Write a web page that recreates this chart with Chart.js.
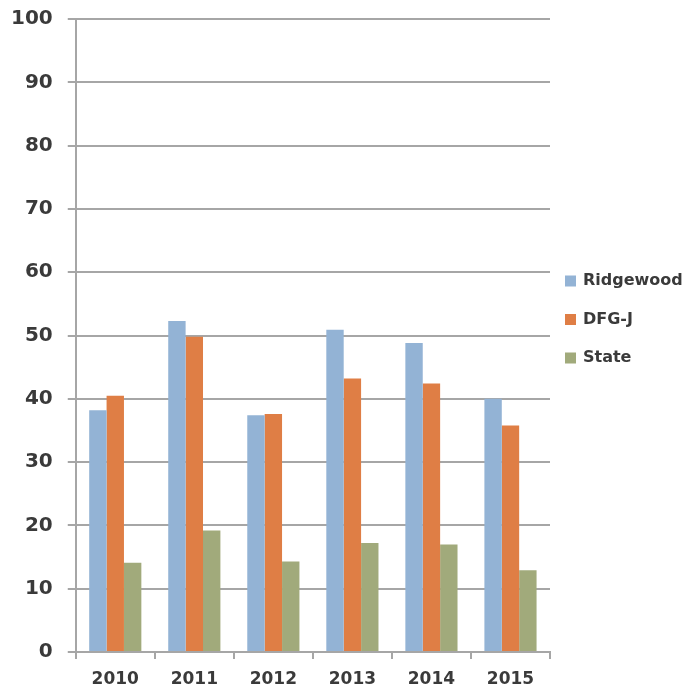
<!DOCTYPE html>
<html>
<head>
<meta charset="utf-8">
<script src="https://cdn.jsdelivr.net/npm/chart.js@4"></script>
<style>
  html, body { margin: 0; padding: 0; background: #ffffff; }
  #wrap { width: 686px; height: 685px; position: relative; }
</style>
</head>
<body>
<div id="wrap"><canvas id="chart" width="686" height="685"></canvas></div>
<script>
// Years shown along the x axis
const years = ['2010', '2011', '2012', '2013', '2014', '2015'];

// Values per series (percent)
const ridgewood = [38.2, 52.3, 37.4, 50.9, 48.8, 40.0];
const dfgJ      = [40.5, 49.8, 37.6, 43.2, 42.4, 35.8];
const state     = [14.1, 19.2, 14.3, 17.2, 17.0, 12.9];

// Y axis range and step
const yMin = 0;
const yMax = 100;
const yStep = 10;

const gridGray = '#a6a6a6';
const textGray = '#3a3a3a';
const fontFamily = '"DejaVu Sans", "Open Sans", sans-serif';

// Legend to the right of the plot: small square swatch + series name,
// vertically centred on the plot area.
const sideLegend = {
  id: 'sideLegend',
  afterDraw(chart) {
    const ctx = chart.ctx;
    const area = chart.chartArea;
    const sets = chart.data.datasets;
    const rowGap = 38.5;
    const box = 11;
    const x0 = area.right + 15;
    const midY = (area.top + area.bottom) / 2 - 18;
    const firstY = midY - rowGap * (sets.length - 1) / 2 + 2;
    ctx.save();
    ctx.font = 'bold 16px ' + fontFamily;
    ctx.textBaseline = 'middle';
    ctx.textAlign = 'left';
    sets.forEach((ds, i) => {
      const cy = firstY + i * rowGap;
      ctx.fillStyle = ds.backgroundColor;
      ctx.fillRect(x0, cy - box / 2, box, box);
      ctx.fillStyle = textGray;
      ctx.fillText(ds.label, x0 + 18, cy);
    });
    ctx.restore();
  }
};

new Chart(document.getElementById('chart'), {
  type: 'bar',
  data: {
    labels: years,
    datasets: [
      { label: 'Ridgewood', data: ridgewood, backgroundColor: '#93b3d5' },
      { label: 'DFG-J',     data: dfgJ,      backgroundColor: '#df7e45' },
      { label: 'State',     data: state,     backgroundColor: '#a1aa7b' }
    ]
  },
  plugins: [sideLegend],
  options: {
    responsive: false,
    animation: false,
    devicePixelRatio: 1,
    datasets: {
      bar: { categoryPercentage: 0.66, barPercentage: 1.0 }
    },
    layout: { padding: { top: 19, left: -4, right: 136, bottom: 0 } },
    plugins: {
      tooltip: { enabled: false },
      legend: { display: false }
    },
    scales: {
      x: {
        afterFit(scale) {
          scale.paddingLeft = 0;
          scale.paddingRight = 0;
          scale.height = 33;
        },
        grid: {
          display: true,
          drawOnChartArea: false,
          drawTicks: true,
          tickLength: 7,
          color: gridGray,
          lineWidth: 2
        },
        border: { display: true, color: gridGray, width: 2 },
        ticks: {
          color: textGray,
          padding: 10,
          font: { family: fontFamily, size: 17, weight: 'bold' }
        }
      },
      y: {
        min: yMin,
        max: yMax,
        afterFit(scale) { scale.paddingTop = 0; scale.paddingBottom = 0; },
        grid: {
          color: gridGray,
          lineWidth: 2,
          tickLength: 8
        },
        border: { display: true, color: gridGray, width: 2 },
        ticks: {
          stepSize: yStep,
          color: textGray,
          padding: 15,
          font: { family: fontFamily, size: 20, weight: 'bold' }
        }
      }
    }
  }
});
</script>
</body>
</html>
